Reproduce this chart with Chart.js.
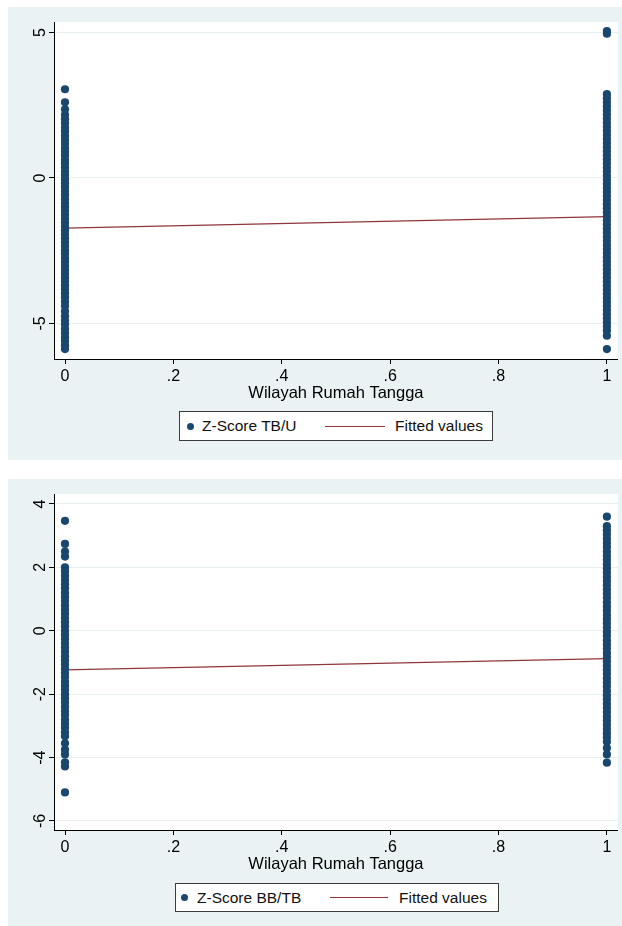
<!DOCTYPE html>
<html>
<head>
<meta charset="utf-8">
<script src="https://cdn.jsdelivr.net/npm/chart.js@4.4.1/dist/chart.umd.min.js"></script>
<style>
  html, body { margin: 0; padding: 0; background: #ffffff; }
  body { width: 622px; height: 926px; position: relative; overflow: hidden;
         font-family: "Liberation Sans", Arial, sans-serif; }
  .panel { position: absolute; background: #eaf2f3; }
  .panel canvas { position: absolute; left: 0; top: 0; }
  .legend { position: absolute; background: #ffffff; border: 1px solid #3c3c3c;
            box-sizing: border-box; font-size: 15.5px; color: #111; }
  .legend span { position: absolute; white-space: nowrap; }
  .dot { border-radius: 50%; }
</style>
</head>
<body>
<div class="panel" id="p1" style="left:8px;top:7px;width:614px;height:453px;"><canvas id="c1" width="614" height="453"></canvas></div>
<div class="panel" id="p2" style="left:8px;top:479px;width:614px;height:447px;"><canvas id="c2" width="614" height="447"></canvas></div>

<script>
// ---------------- data ----------------
const groups = [0, 1];                         // Wilayah Rumah Tangga
const xTicks = [0, 0.2, 0.4, 0.6, 0.8, 1];
const xTitle = "Wilayah Rumah Tangga";

// Chart 1 : Z-Score TB/U
const tbuLabel = "Z-Score TB/U";
const tbuTicks = [-5, 0, 5];
const tbuGroup0 = [3.05, 2.6, 2.36, 2.17, 2.02, 1.88, 1.73, 1.6, 1.45, 1.31, 1.18, 1.03, 0.9, 0.77, 0.62, 0.5, 0.36,
  0.22, 0.1, -0.04, -0.18, -0.31, -0.45, -0.58, -0.72, -0.86, -0.99, -1.13, -1.26, -1.4, -1.53, -1.67, -1.8,
  -1.94, -2.07, -2.21, -2.34, -2.48, -2.61, -2.75, -2.88, -3.02, -3.15, -3.29, -3.42, -3.56, -3.69, -3.83,
  -3.96, -4.1, -4.25, -4.4, -4.58, -4.75, -4.9, -5.03, -5.18, -5.32, -5.47, -5.6, -5.75, -5.88];
const tbuGroup1 = [5.05, 4.96, 2.88, 2.74, 2.6, 2.46, 2.32, 2.18, 2.04, 1.9, 1.76, 1.62, 1.48, 1.34, 1.2, 1.06,
  0.92, 0.78, 0.64, 0.5, 0.36, 0.22, 0.08, -0.06, -0.2, -0.34, -0.48, -0.62, -0.76, -0.9, -1.04, -1.18, -1.32,
  -1.46, -1.6, -1.74, -1.88, -2.02, -2.16, -2.3, -2.44, -2.58, -2.72, -2.86, -3.0, -3.14, -3.28, -3.42, -3.56,
  -3.7, -3.84, -3.98, -4.12, -4.26, -4.4, -4.54, -4.68, -4.82, -4.96, -5.1, -5.24, -5.42, -5.88];
const tbuFitted = [-1.72, -1.33];

// Chart 2 : Z-Score BB/TB
const bbtbLabel = "Z-Score BB/TB";
const bbtbTicks = [-6, -4, -2, 0, 2, 4];
const bbtbGroup0 = [3.47, 2.74, 2.5, 2.34, 2.0, 1.87, 1.74, 1.6, 1.47, 1.34, 1.2, 1.07, 0.94, 0.8, 0.67, 0.54,
  0.4, 0.27, 0.14, 0.0, -0.13, -0.26, -0.4, -0.53, -0.66, -0.8, -0.93, -1.06, -1.2, -1.33, -1.46, -1.6, -1.73,
  -1.86, -2.0, -2.13, -2.26, -2.4, -2.53, -2.66, -2.8, -2.93, -3.06, -3.2, -3.33, -3.55, -3.75, -3.9, -4.15,
  -4.28, -5.1];
const bbtbGroup1 = [3.6, 3.3, 3.17, 3.04, 2.9, 2.77, 2.64, 2.5, 2.37, 2.24, 2.1, 1.97, 1.84, 1.7, 1.57, 1.44,
  1.3, 1.17, 1.04, 0.9, 0.77, 0.64, 0.5, 0.37, 0.24, 0.1, -0.03, -0.16, -0.3, -0.43, -0.56, -0.7, -0.83, -0.96,
  -1.1, -1.23, -1.36, -1.5, -1.63, -1.76, -1.9, -2.03, -2.16, -2.3, -2.43, -2.56, -2.7, -2.83, -2.96, -3.1,
  -3.23, -3.36, -3.5, -3.7, -3.9, -4.16];
const bbtbFitted = [-1.23, -0.88];
const fitLabel = "Fitted values";

// ---------------- styles ----------------
const NAVY = "#1a476f";
const MAROON = "#90353b";
const FONT = "'Liberation Sans', Arial, sans-serif";

const plotBg = {
  id: "plotBg",
  beforeDraw(chart) {
    const { ctx, chartArea: a } = chart;
    ctx.save();
    ctx.fillStyle = "#ffffff";
    ctx.fillRect(a.left, a.top, a.right - a.left, a.bottom - a.top);
    ctx.restore();
  }
};

function fmtX(v) {
  if (v === 0) return "0";
  if (v === 1) return "1";
  return String(+v.toFixed(1)).replace(/^0/, "");
}

function makeChart(canvasId, label, g0, g1, fitted, yTicks, yMin, yMax, padBottom) {
  const pts = [];
  g0.forEach(v => pts.push({ x: groups[0], y: v }));
  g1.forEach(v => pts.push({ x: groups[1], y: v }));
  return new Chart(document.getElementById(canvasId), {
    type: "scatter",
    data: {
      datasets: [
        { label: label, data: pts, backgroundColor: NAVY, borderColor: NAVY, borderWidth: 0,
          pointRadius: 4.1, showLine: false },
        { type: "line", label: fitLabel,
          data: [{ x: groups[0], y: fitted[0] }, { x: groups[1], y: fitted[1] }],
          borderColor: MAROON, borderWidth: 1.2, pointRadius: 0, fill: false }
      ]
    },
    options: {
      responsive: false, animation: false, devicePixelRatio: 1,
      layout: { padding: { left: 0, top: 15, right: 4, bottom: padBottom } },
      plugins: { legend: { display: false }, tooltip: { enabled: false } },
      scales: {
        x: {
          type: "linear", min: -0.0203, max: 1.0203,
          afterBuildTicks(s) { s.ticks = xTicks.map(v => ({ value: v })); },
          afterFit(s) { s.height = 48; },
          ticks: { callback: v => fmtX(v), font: { family: FONT, size: 16 }, color: "#000",
                   padding: 3, maxRotation: 0, minRotation: 0, autoSkip: false },
          grid: { display: true, drawOnChartArea: false, tickLength: 5, tickColor: "#000" },
          border: { display: true, color: "#000", width: 1 },
          title: { display: true, text: xTitle, font: { family: FONT, size: 16.5 }, color: "#000",
                   padding: { top: 0, bottom: 4 } }
        },
        y: {
          type: "linear", min: yMin, max: yMax,
          afterBuildTicks(s) { s.ticks = yTicks.map(v => ({ value: v })); },
          afterFit(s) { s.width = 46; },
          ticks: { callback: v => String(v), font: { family: FONT, size: 16 }, color: "#000",
                   minRotation: 90, maxRotation: 90, crossAlign: "center", padding: 1, autoSkip: false },
          grid: { color: "#e9f0f1", lineWidth: 1, tickLength: 5, tickColor: "#000" },
          border: { display: true, color: "#000", width: 1 }
        }
      }
    },
    plugins: [plotBg]
  });
}

const chart1 = makeChart("c1", tbuLabel, tbuGroup0, tbuGroup1, tbuFitted, tbuTicks, -6.22, 5.36, 53);
const chart2 = makeChart("c2", bbtbLabel, bbtbGroup0, bbtbGroup1, bbtbFitted, bbtbTicks, -6.284, 4.315, 48);

// HTML legend built from chart datasets
function buildLegend(chart, box, dotX, txt1X, lineX1, lineX2, txt2X) {
  const ds = chart.data.datasets;
  const el = document.createElement("div");
  el.className = "legend";
  el.style.left = box.l + "px"; el.style.top = box.t + "px";
  el.style.width = (box.r - box.l) + "px"; el.style.height = (box.b - box.t) + "px";
  const h = box.b - box.t;
  const cy = h / 2 - 1;
  const dot = document.createElement("span");
  dot.className = "dot";
  Object.assign(dot.style, { left: (dotX - box.l - 3.5 - 1) + "px", top: (cy - 3.5) + "px",
    width: "7px", height: "7px", background: ds[0].backgroundColor });
  el.appendChild(dot);
  const t1 = document.createElement("span");
  t1.textContent = ds[0].label;
  Object.assign(t1.style, { left: (txt1X - box.l - 1) + "px", top: (cy - 9) + "px", lineHeight: "18px" });
  el.appendChild(t1);
  const ln = document.createElement("span");
  Object.assign(ln.style, { left: (lineX1 - box.l - 1) + "px", top: (cy - 0.5) + "px",
    width: (lineX2 - lineX1) + "px", height: "1.2px", background: ds[1].borderColor });
  el.appendChild(ln);
  const t2 = document.createElement("span");
  t2.textContent = ds[1].label;
  Object.assign(t2.style, { left: (txt2X - box.l - 1) + "px", top: (cy - 9) + "px", lineHeight: "18px" });
  el.appendChild(t2);
  document.body.appendChild(el);
}
buildLegend(chart1, { l: 179, t: 411, r: 493, b: 441 }, 190, 202, 325, 385, 395);
buildLegend(chart2, { l: 175, t: 883, r: 499, b: 912 }, 184, 197, 330, 388, 399);
</script>
</body>
</html>
